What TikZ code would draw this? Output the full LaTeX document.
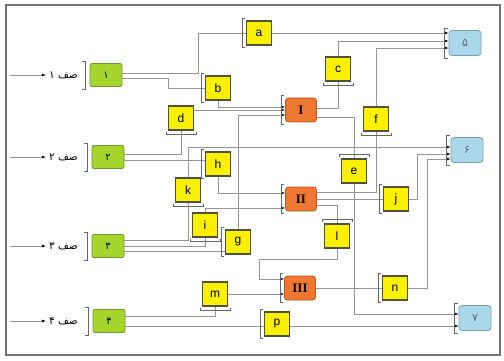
\documentclass[tikz,border=0pt]{standalone}
\usepackage{fontspec}
\setmainfont{Liberation Sans}
\newfontfamily\arabicfont[Script=Arabic]{DejaVu Sans}
\newfontfamily\romfont{Liberation Serif}
\TeXXeTstate=1
\usetikzlibrary{arrows.meta,calc}
\definecolor{ylw}{RGB}{250,240,0}
\definecolor{ylwb}{RGB}{80,80,60}
\definecolor{grn}{RGB}{166,214,46}
\definecolor{grnb}{RGB}{110,150,40}
\definecolor{org}{RGB}{238,120,50}
\definecolor{orgb}{RGB}{180,90,35}
\definecolor{blu}{RGB}{168,216,234}
\definecolor{blub}{RGB}{120,160,178}
\definecolor{wirec}{RGB}{150,150,150}
\newcommand\brkL[1]{\draw[brk] ([shift={(-1pt,2pt)}]#1.north west) -- ++(-3pt,0) |- ([shift={(-1pt,-2pt)}]#1.south west);}
\newcommand\brkB[1]{\draw[brk] ([shift={(-2pt,-1pt)}]#1.south west) -- ++(0,-3pt) -| ([shift={(2pt,-1pt)}]#1.south east);}
\newcommand\brkT[1]{\draw[brk] ([shift={(-2pt,1pt)}]#1.north west) -- ++(0,3pt) -| ([shift={(2pt,1pt)}]#1.north east);}
\newcommand\brkG[1]{\draw[brk] ([shift={(-8pt,2pt)}]#1.north west) -- ++(4pt,0) |- ([shift={(-8pt,-2pt)}]#1.south west);}
\begin{document}
\begin{tikzpicture}[x=1pt,y=-1pt,
  ybox/.style={draw=ylwb, line width=1.2pt, fill=ylw, minimum width=25pt, minimum height=24pt, inner sep=0pt, font=\fontsize{12}{12}\selectfont},
  gbox/.style={draw=grnb, line width=0.8pt, fill=grn, rounded corners=2pt, minimum width=32pt, minimum height=23pt, inner sep=0pt, font=\arabicfont\fontsize{10}{10}\selectfont},
  obox/.style={draw=orgb, line width=0.8pt, fill=org, rounded corners=3pt, minimum width=31pt, minimum height=24pt, inner sep=0pt, font=\romfont\bfseries\fontsize{13}{13}\selectfont},
  bbox/.style={draw=blub, line width=0.8pt, fill=blu, rounded corners=3pt, minimum width=32pt, minimum height=25pt, inner sep=0pt, font=\arabicfont\fontsize{11}{11}\selectfont, text=black!60},
  wire/.style={draw=wirec, line width=0.6pt},
  arr/.style={wire, -{Latex[length=4pt,width=3pt,color=black]}},
  brk/.style={draw=black!60, line width=0.6pt},
  lab/.style={font=\arabicfont\fontsize{10.5}{10.5}\selectfont, inner sep=0pt, anchor=east}]
\useasboundingbox (0,0) rectangle (504,361);
\draw[black!55, line width=2pt] (6,5) rectangle (500,355);
% input nodes
\node[gbox] (g1) at (106,75) {۱};
\node[gbox] (g2) at (108,157) {۲};
\node[gbox] (g3) at (108,246) {۳};
\node[gbox] (g4) at (109,321) {۴};
% output nodes
\node[bbox] (b5) at (465,43) {۵};
\node[bbox] (b6) at (467,150) {۶};
\node[bbox] (b7) at (475,318) {۷};
% stages
\node[obox] (oI) at (301,110) {I};
\node[obox] (oII) at (301,199) {II};
\node[obox] (oIII) at (300,288) {III};
% tasks
\node[ybox] (a) at (259,33) {a};
\node[ybox] (b) at (218,88) {b};
\node[ybox] (c) at (338,69) {c};
\node[ybox] (d) at (181,118) {d};
\node[ybox] (e) at (354,171) {e};
\node[ybox] (f) at (376,119) {f};
\node[ybox] (h) at (218,164) {h};
\node[ybox] (k) at (188,190) {k};
\node[ybox] (i) at (205,225) {i};
\node[ybox] (g) at (238,242) {g};
\node[ybox] (l) at (337,236) {l};
\node[ybox] (j) at (396,199) {j};
\node[ybox] (m) at (215,294) {m};
\node[ybox] (n) at (395,288) {n};
\node[ybox] (p) at (277,324) {p};
% left labels
\node[lab] (lab1) at (78,75) {\beginR صف ۱\endR};
\node[lab] (lab2) at (78,157) {\beginR صف ۲\endR};
\node[lab] (lab3) at (78,246) {\beginR صف ۳\endR};
\node[lab] (lab4) at (78,321) {\beginR صف ۴\endR};
\coordinate (in1) at (10,75);
\coordinate (in2) at (10,157);
\coordinate (in3) at (10,246);
\coordinate (in4) at (10,321);
\draw[arr] (in1) -- ([xshift=-3pt]lab1.west);
\draw[arr] (in2) -- ([xshift=-3pt]lab2.west);
\draw[arr] (in3) -- ([xshift=-3pt]lab3.west);
\draw[arr] (in4) -- ([xshift=-3pt]lab4.west);
% helper coordinates
\coordinate (ax) at (198,0);
\coordinate (bx) at (168,0);
\coordinate (jx) at (417,0);
\coordinate (nx) at (427,0);
\coordinate (lx) at (259,259);
\coordinate (g1o1) at ($(g1.east)+(0,-2)$);
\coordinate (g1o2) at ($(g1.east)+(0,3)$);
\coordinate (g2o1) at ($(g2.east)+(0,-3)$);
\coordinate (g2o2) at ($(g2.east)+(0,3)$);
\coordinate (g3o1) at ($(g3.east)+(0,-6)$);
\coordinate (g3o3) at ($(g3.east)+(0,5)$);
\coordinate (g4o1) at ($(g4.east)+(0,-5)$);
\coordinate (g4o2) at ($(g4.east)+(0,5)$);
\coordinate (do) at ($(d.east)+(0,-8)$);
\coordinate (po) at ($(p.east)+(0,2)$);
\coordinate (oIa) at ($(oI.west)+(0,-3)$);
\coordinate (oIc) at ($(oI.west)+(0,5)$);
\coordinate (oIo1) at ($(oI.east)+(0,-2)$);
\coordinate (oIo2) at ($(oI.east)+(0,7)$);
\coordinate (oIIa) at ($(oII.west)+(0,-6)$);
\coordinate (oIIb) at ($(oII.west)+(0,9)$);
\coordinate (oIIo1) at ($(oII.east)+(0,-7)$);
\coordinate (oIIo3) at ($(oII.east)+(0,6)$);
\coordinate (oIIIa) at ($(oIII.west)+(0,-9)$);
\coordinate (b5b) at ($(b5.west)+(0,-2)$);
\coordinate (b5c) at ($(b5.west)+(0,5)$);
\coordinate (b6a) at ($(b6.west)+(0,-3)$);
\coordinate (b6b) at ($(b6.west)+(0,4)$);
\coordinate (b6c) at ($(b6.west)+(0,9)$);
\coordinate (b7a) at ($(b7.west)+(0,-4)$);
% wires
\draw[wire] (g1o1) -- (g1o1 -| ax) |- (a.west);
\draw[wire] (g1o2) -- (g1o2 -| bx) |- (b.west);
\draw[wire] (g2o1) -| (d.south);
\draw[wire] (g2o2) -- (g2o2 -| h.west);
\draw[wire] (g3o1) -| (k.south);
\draw[wire] (g3.east) -| (i.south);
\draw[wire] (g3o3) -- (g3o3 -| g.west);
\draw[wire] (g4o1) -| (m.south);
\draw[wire] (g4o2) -- (g4o2 -| p.west);
\draw[arr] (b.south) |- (oIa);
\draw[arr] (do) -- (do -| oI.west);
\draw[arr] (g.north) |- (oIc);
\draw[arr] (h.south) |- (oIIa);
\draw[arr] (i.north) |- (oIIb);
\draw[arr] (l.south) |- (lx) |- (oIIIa);
\draw[arr] (m.east) -- (m.east -| oIII.west);
\draw[wire] (oIo1) -| (c.south);
\draw[wire] (oIo2) -| (e.north);
\draw[wire] (oIIo1) -| (f.south);
\draw[wire] (oII.east) -- (oII.east -| j.west);
\draw[wire] (oIIo3) -| (l.north);
\draw[wire] (oIII.east) -- (oIII.east -| n.west);
\draw[arr] (a.east) -- (a.east -| b5.west);
\draw[arr] (c.north) |- (b5b);
\draw[arr] (f.north) |- (b5c);
\draw[arr] (k.north) |- (b6a);
\draw[arr] (j.east) -- (j.east -| jx) |- (b6b);
\draw[arr] (n.east) -- (n.east -| nx) |- (b6c);
\draw[arr] (e.south) |- (b7a);
\draw[arr] (po) -- (po -| b7.west);
% brackets
\brkG{g1}\brkG{g2}\brkG{g3}\brkG{g4}
\brkL{a}\brkL{b}\brkL{h}\brkL{g}\brkL{j}\brkL{n}\brkL{p}
\brkL{oI}\brkL{oII}\brkL{oIII}\brkL{b5}\brkL{b6}\brkL{b7}
\brkB{c}\brkB{d}\brkB{f}\brkB{i}\brkB{k}\brkB{m}
\brkT{e}\brkT{l}
\end{tikzpicture}
\end{document}
